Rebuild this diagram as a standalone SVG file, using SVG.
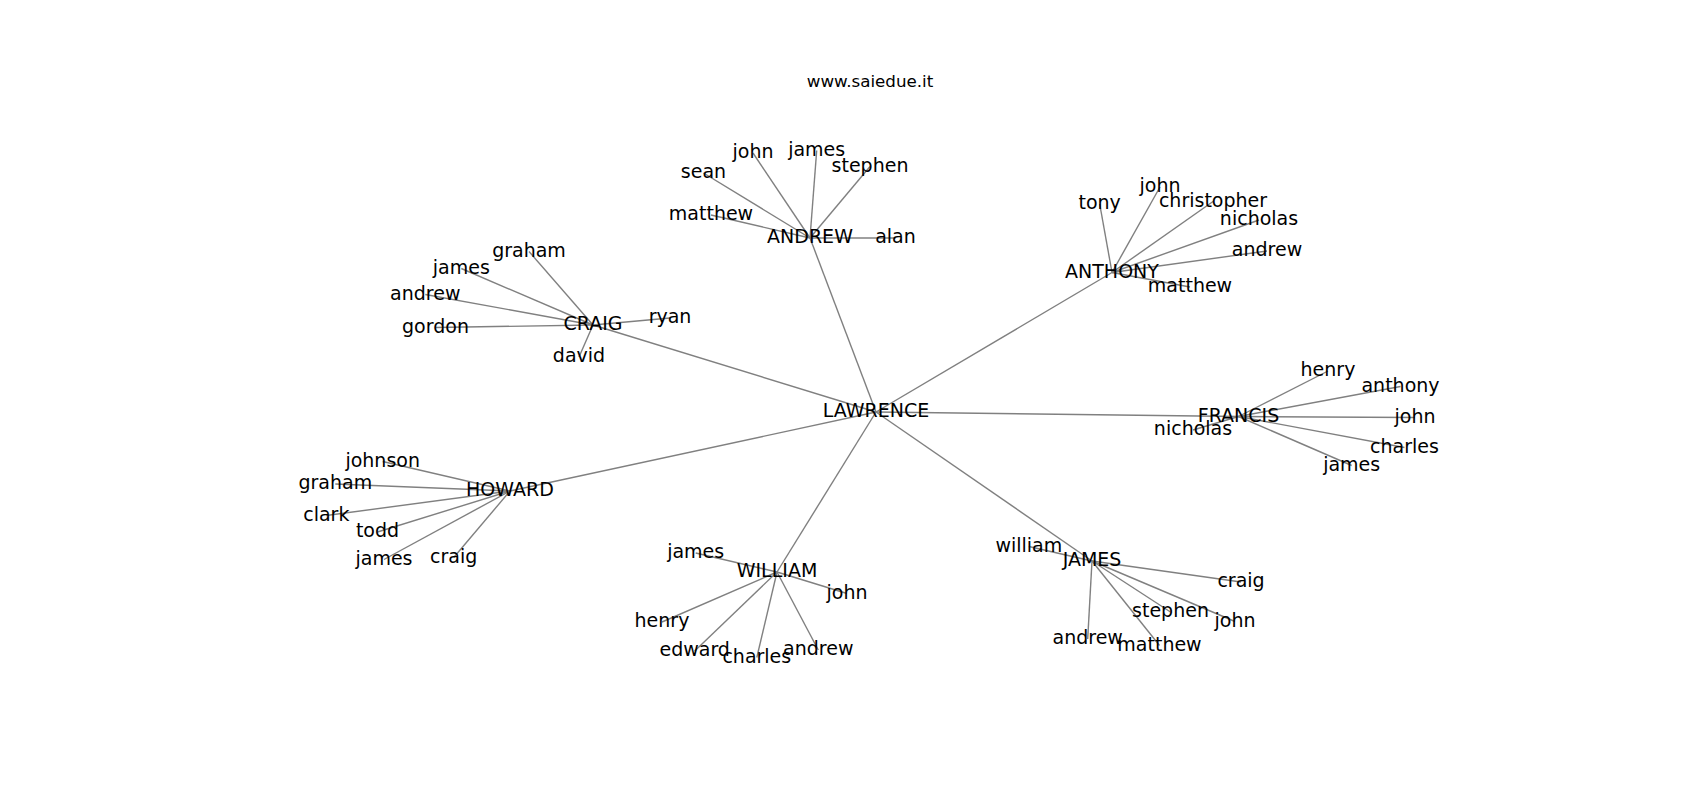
<svg xmlns="http://www.w3.org/2000/svg" width="1700" height="800" viewBox="0 0 1700 800">
<style>
text{font-family:"DejaVu Sans","Liberation Sans",sans-serif;font-size:19px;fill:#000;text-anchor:middle}
.title{font-size:16.7px}
.e line{stroke:#808080;stroke-width:1.4}
</style>
<rect width="1700" height="800" fill="#fff"/>
<text class="title" x="870" y="87">www.saiedue.it</text>
<g id="connectors" class="e">
<line x1="876" y1="412" x2="810" y2="238"/>
<line x1="876" y1="412" x2="1112" y2="272.5"/>
<line x1="876" y1="412" x2="1238.5" y2="416.5"/>
<line x1="876" y1="412" x2="593" y2="325"/>
<line x1="876" y1="412" x2="510" y2="491"/>
<line x1="876" y1="412" x2="777" y2="572"/>
<line x1="876" y1="412" x2="1092" y2="561"/>
<line x1="810" y1="238" x2="703.5" y2="173"/>
<line x1="810" y1="238" x2="753" y2="153"/>
<line x1="810" y1="238" x2="816.7" y2="150.5"/>
<line x1="810" y1="238" x2="870" y2="166.5"/>
<line x1="810" y1="238" x2="711" y2="215"/>
<line x1="810" y1="238" x2="895.5" y2="238"/>
<line x1="1112" y1="272.5" x2="1099.7" y2="204"/>
<line x1="1112" y1="272.5" x2="1160" y2="187"/>
<line x1="1112" y1="272.5" x2="1213" y2="201.5"/>
<line x1="1112" y1="272.5" x2="1259" y2="220"/>
<line x1="1112" y1="272.5" x2="1267" y2="251"/>
<line x1="1112" y1="272.5" x2="1190" y2="287"/>
<line x1="1238.5" y1="416.5" x2="1328" y2="371"/>
<line x1="1238.5" y1="416.5" x2="1400.5" y2="386.5"/>
<line x1="1238.5" y1="416.5" x2="1415" y2="417.5"/>
<line x1="1238.5" y1="416.5" x2="1404.5" y2="447.5"/>
<line x1="1238.5" y1="416.5" x2="1351.7" y2="465.5"/>
<line x1="1238.5" y1="416.5" x2="1193" y2="430"/>
<line x1="593" y1="325" x2="529" y2="251.5"/>
<line x1="593" y1="325" x2="461.3" y2="268.5"/>
<line x1="593" y1="325" x2="425.3" y2="294.5"/>
<line x1="593" y1="325" x2="435.5" y2="327.5"/>
<line x1="593" y1="325" x2="670" y2="318"/>
<line x1="593" y1="325" x2="579" y2="357"/>
<line x1="510" y1="491" x2="382.7" y2="461.5"/>
<line x1="510" y1="491" x2="335.3" y2="484"/>
<line x1="510" y1="491" x2="326.3" y2="515.5"/>
<line x1="510" y1="491" x2="377.5" y2="532"/>
<line x1="510" y1="491" x2="384" y2="559.5"/>
<line x1="510" y1="491" x2="453.7" y2="557.5"/>
<line x1="777" y1="572" x2="695.7" y2="553"/>
<line x1="777" y1="572" x2="662" y2="622"/>
<line x1="777" y1="572" x2="847" y2="593.5"/>
<line x1="777" y1="572" x2="694.7" y2="651"/>
<line x1="777" y1="572" x2="756.8" y2="657.5"/>
<line x1="777" y1="572" x2="818.3" y2="650"/>
<line x1="1092" y1="561" x2="1028.8" y2="546.5"/>
<line x1="1092" y1="561" x2="1241" y2="582"/>
<line x1="1092" y1="561" x2="1170.5" y2="612"/>
<line x1="1092" y1="561" x2="1235" y2="621.5"/>
<line x1="1092" y1="561" x2="1087.7" y2="639"/>
<line x1="1092" y1="561" x2="1159.5" y2="645.5"/>
</g>
<g id="LAWRENCE"><text x="876" y="417.2">LAWRENCE</text></g>
<g id="ANDREW"><text x="810" y="243.2">ANDREW</text></g>
<g id="ANDREW-sean"><text x="703.5" y="178.2">sean</text></g>
<g id="ANDREW-john"><text x="753" y="158.2">john</text></g>
<g id="ANDREW-james"><text x="816.7" y="155.7">james</text></g>
<g id="ANDREW-stephen"><text x="870" y="171.7">stephen</text></g>
<g id="ANDREW-matthew"><text x="711" y="220.2">matthew</text></g>
<g id="ANDREW-alan"><text x="895.5" y="243.2">alan</text></g>
<g id="ANTHONY"><text x="1112" y="277.7">ANTHONY</text></g>
<g id="ANTHONY-tony"><text x="1099.7" y="209.2">tony</text></g>
<g id="ANTHONY-john"><text x="1160" y="192.2">john</text></g>
<g id="ANTHONY-christopher"><text x="1213" y="206.7">christopher</text></g>
<g id="ANTHONY-nicholas"><text x="1259" y="225.2">nicholas</text></g>
<g id="ANTHONY-andrew"><text x="1267" y="256.2">andrew</text></g>
<g id="ANTHONY-matthew"><text x="1190" y="292.2">matthew</text></g>
<g id="FRANCIS"><text x="1238.5" y="421.7">FRANCIS</text></g>
<g id="FRANCIS-henry"><text x="1328" y="376.2">henry</text></g>
<g id="FRANCIS-anthony"><text x="1400.5" y="391.7">anthony</text></g>
<g id="FRANCIS-john"><text x="1415" y="422.7">john</text></g>
<g id="FRANCIS-charles"><text x="1404.5" y="452.7">charles</text></g>
<g id="FRANCIS-james"><text x="1351.7" y="470.7">james</text></g>
<g id="FRANCIS-nicholas"><text x="1193" y="435.2">nicholas</text></g>
<g id="CRAIG"><text x="593" y="330.2">CRAIG</text></g>
<g id="CRAIG-graham"><text x="529" y="256.7">graham</text></g>
<g id="CRAIG-james"><text x="461.3" y="273.7">james</text></g>
<g id="CRAIG-andrew"><text x="425.3" y="299.7">andrew</text></g>
<g id="CRAIG-gordon"><text x="435.5" y="332.7">gordon</text></g>
<g id="CRAIG-ryan"><text x="670" y="323.2">ryan</text></g>
<g id="CRAIG-david"><text x="579" y="362.2">david</text></g>
<g id="HOWARD"><text x="510" y="496.2">HOWARD</text></g>
<g id="HOWARD-johnson"><text x="382.7" y="466.7">johnson</text></g>
<g id="HOWARD-graham"><text x="335.3" y="489.2">graham</text></g>
<g id="HOWARD-clark"><text x="326.3" y="520.7">clark</text></g>
<g id="HOWARD-todd"><text x="377.5" y="537.2">todd</text></g>
<g id="HOWARD-james"><text x="384" y="564.7">james</text></g>
<g id="HOWARD-craig"><text x="453.7" y="562.7">craig</text></g>
<g id="WILLIAM"><text x="777" y="577.2">WILLIAM</text></g>
<g id="WILLIAM-james"><text x="695.7" y="558.2">james</text></g>
<g id="WILLIAM-henry"><text x="662" y="627.2">henry</text></g>
<g id="WILLIAM-john"><text x="847" y="598.7">john</text></g>
<g id="WILLIAM-edward"><text x="694.7" y="656.2">edward</text></g>
<g id="WILLIAM-charles"><text x="756.8" y="662.7">charles</text></g>
<g id="WILLIAM-andrew"><text x="818.3" y="655.2">andrew</text></g>
<g id="JAMES"><text x="1092" y="566.2">JAMES</text></g>
<g id="JAMES-william"><text x="1028.8" y="551.7">william</text></g>
<g id="JAMES-craig"><text x="1241" y="587.2">craig</text></g>
<g id="JAMES-stephen"><text x="1170.5" y="617.2">stephen</text></g>
<g id="JAMES-john"><text x="1235" y="626.7">john</text></g>
<g id="JAMES-andrew"><text x="1087.7" y="644.2">andrew</text></g>
<g id="JAMES-matthew"><text x="1159.5" y="650.7">matthew</text></g>
</svg>
